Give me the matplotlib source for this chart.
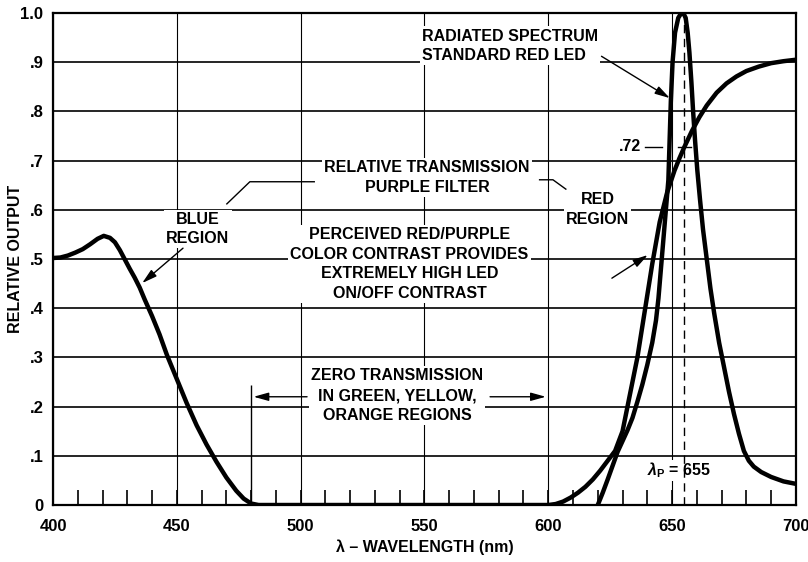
import numpy as np
import matplotlib.pyplot as plt

plt.rcParams['font.family'] = ['Liberation Sans', 'DejaVu Sans']
plt.rcParams['font.weight'] = 'bold'
plt.rcParams['mathtext.fontset'] = 'custom'
plt.rcParams['mathtext.rm'] = 'Liberation Sans'
plt.rcParams['mathtext.bf'] = 'Liberation Sans:bold'
plt.rcParams['mathtext.it'] = 'Liberation Sans:italic'

# purple filter transmission (blue region, zero, red region)
filter_wl = [400, 403, 406, 409, 412, 415, 418, 420.5, 423, 425, 427, 429, 431, 433, 435, 437,
             440, 443, 446, 450, 454, 458, 462, 466, 470, 474, 477, 480, 483,
             600, 603, 606, 609, 612, 615, 618, 621, 624, 627, 630, 632, 634, 636, 639, 642,
             645, 648, 651, 653, 655, 658, 661, 664, 668, 672, 676, 680, 685, 690, 695, 700]
filter_t = [0.502, 0.503, 0.507, 0.513, 0.52, 0.53, 0.541, 0.547, 0.543, 0.534, 0.518, 0.499, 0.48,
            0.462, 0.442, 0.418, 0.384, 0.347, 0.305, 0.256, 0.207, 0.162, 0.123, 0.088, 0.056,
            0.029, 0.013, 0.003, 0.0,
            0.0, 0.002, 0.007, 0.015, 0.025, 0.037, 0.052, 0.07, 0.09, 0.11, 0.15, 0.2, 0.25, 0.3,
            0.395, 0.49, 0.575, 0.635, 0.68, 0.705, 0.728, 0.76, 0.788, 0.812, 0.838, 0.857, 0.871,
            0.882, 0.891, 0.898, 0.902, 0.905]

# radiated spectrum, standard red LED
led_wl = [620, 622, 624, 626, 628, 630, 632, 634, 636, 638, 640, 642, 643.5, 644.5, 645.5, 646.5,
          647.5, 648.5, 649, 649.5, 650.2, 651.2, 652.5, 653.5, 654.5, 655.5, 656.3, 657, 657.8,
          658.5, 659.3, 660.2, 661.3, 662.5, 664, 665.5, 667, 669, 671, 673, 675, 677, 679, 681,
          683, 686, 690, 695, 700]
led_out = [0.0, 0.025, 0.052, 0.08, 0.108, 0.13, 0.152, 0.177, 0.21, 0.245, 0.285, 0.33, 0.375,
           0.42, 0.48, 0.54, 0.6, 0.66, 0.74, 0.82, 0.9, 0.96, 0.99, 0.998, 1.0, 0.99, 0.96, 0.92,
           0.86, 0.8, 0.74, 0.68, 0.62, 0.56, 0.5, 0.44, 0.39, 0.33, 0.28, 0.23, 0.185, 0.145,
           0.11, 0.09, 0.078, 0.067, 0.057, 0.048, 0.043]

xticks = [400, 450, 500, 550, 600, 650, 700]
yticks = [0, 0.1, 0.2, 0.3, 0.4, 0.5, 0.6, 0.7, 0.8, 0.9, 1.0]
ytick_labels = ['0', '.1', '.2', '.3', '.4', '.5', '.6', '.7', '.8', '.9', '1.0']
minor_wl = list(range(410, 700, 10))
peak_wl = 655
peak_t = 0.728
zero_edge = 480

fig = plt.figure(figsize=(8.08, 5.62), dpi=100)
ax = fig.add_axes([0.0656, 0.1014, 0.9194, 0.8755])

ax.set_xlim(400, 700)
ax.set_ylim(0, 1.0)
ax.set_xticks(xticks)
ax.set_xticklabels([str(x) for x in xticks])
ax.set_yticks(yticks)
ax.set_yticklabels(ytick_labels)
ax.set_xticks(minor_wl, minor=True)
ax.xaxis.remove_overlapping_locs = False
ax.tick_params(axis='both', which='major', length=0, labelsize=12)
ax.tick_params(axis='x', which='major', pad=10)
ax.tick_params(axis='y', which='major', pad=7)
ax.tick_params(axis='x', which='minor', direction='in', length=11, width=1.2, bottom=True, top=False)
for s in ax.spines.values():
    s.set_linewidth(1.6)

ax.set_axisbelow(True)
ax.grid(axis='y', color='black', lw=1.2)
ax.grid(axis='x', color='black', lw=0.8)

ax.set_xlabel('λ – WAVELENGTH (nm)', fontsize=11.5, fontweight='bold', labelpad=4)
ax.set_ylabel('RELATIVE OUTPUT', fontsize=11.5, fontweight='bold')
ax.yaxis.set_label_coords(-0.041, 0.5)

ax.plot(filter_wl, filter_t, color='black', lw=3.2, solid_capstyle='round',
        solid_joinstyle='round', zorder=4)
ax.plot(led_wl, led_out, color='black', lw=3.2, solid_capstyle='round',
        solid_joinstyle='round', zorder=4)

# peak wavelength marker
ax.vlines(peak_wl, 0, 1.0, colors='black', lw=1.0, linestyles=(0, (6, 4)), zorder=3.5)

box = dict(facecolor='white', edgecolor='none', pad=1.5)
tk = dict(fontsize=11.5, fontweight='bold', linespacing=1.4, bbox=box, zorder=3)
arr = dict(arrowstyle='-|>,head_length=0.9,head_width=0.25', color='black', lw=1.0, shrinkA=0, shrinkB=0)

ax.text(549, 0.933, 'RADIATED SPECTRUM\nSTANDARD RED LED', ha='left', va='center', **tk)
ax.annotate('', xy=(649.1, 0.827), xytext=(621.5, 0.912), arrowprops=arr, zorder=5)

ax.text(551, 0.665, 'RELATIVE TRANSMISSION\nPURPLE FILTER', ha='center', va='center', **tk)
ax.plot([470.2, 479.5, 505.5], [0.612, 0.657, 0.657], color='black', lw=1.0, zorder=3)
ax.plot([596.5, 601.9, 607.1], [0.661, 0.661, 0.642], color='black', lw=1.0, zorder=3)

ax.text(458.5, 0.561, 'BLUE\nREGION', ha='center', va='center', **tk)
ax.annotate('', xy=(436, 0.451), xytext=(452.5, 0.522), arrowprops=arr, zorder=5)

ax.text(620, 0.6, 'RED\nREGION', ha='center', va='center', **tk)
ax.annotate('', xy=(640.2, 0.508), xytext=(625.7, 0.461), arrowprops=arr, zorder=5)

ax.text(544, 0.49, 'PERCEIVED RED/PURPLE\nCOLOR CONTRAST PROVIDES\nEXTREMELY HIGH LED\nON/OFF CONTRAST',
        ha='center', va='center', **tk)

ax.text(539, 0.222, 'ZERO TRANSMISSION\nIN GREEN, YELLOW,\nORANGE REGIONS', ha='center', va='center', **tk)
ax.vlines(zero_edge, 0, 0.243, colors='black', lw=1.0, zorder=3)
ax.annotate('', xy=(zero_edge + 1, 0.22), xytext=(502.6, 0.22), arrowprops=arr, zorder=5)
ax.annotate('', xy=(599, 0.22), xytext=(576.5, 0.22), arrowprops=arr, zorder=5)

# .72 transmission at peak
ax.text(637.5, peak_t, '.72', ha='right', va='center', fontsize=11.5, fontweight='bold')
ax.plot([639, 646], [peak_t, peak_t], color='black', lw=1.0)
ax.plot([652.5, 657.5], [peak_t, peak_t], color='black', lw=1.0)

ax.text(653, 0.071, r'$\lambda_{\mathbf{P}}$ = 655', ha='center', va='center',
        fontsize=11.5, fontweight='bold', bbox=dict(facecolor='white', edgecolor='none', pad=0.5), zorder=3)

fig.savefig('out.png', dpi=100)
